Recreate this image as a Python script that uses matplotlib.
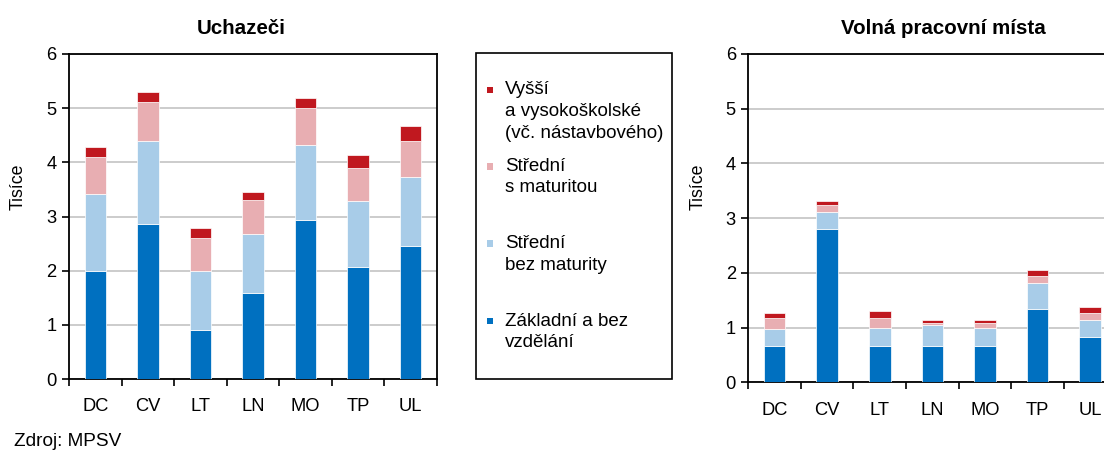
import matplotlib
matplotlib.use("Agg")
import matplotlib.pyplot as plt
from matplotlib.patches import Rectangle
import numpy as np

plt.rcParams['font.family'] = ['Liberation Sans', 'DejaVu Sans']

regions = ["DC", "CV", "LT", "LN", "MO", "TP", "UL"]

# Uchazeči (thousands)
uch_zakladni = [1.99, 2.86, 0.91, 1.58, 2.93, 2.06, 2.45]
uch_stredni_bez = [1.42, 1.53, 1.08, 1.10, 1.39, 1.22, 1.28]
uch_stredni_s = [0.69, 0.73, 0.62, 0.63, 0.69, 0.62, 0.66]
uch_vyssi = [0.18, 0.17, 0.17, 0.14, 0.18, 0.24, 0.28]

# Volná pracovní místa (thousands)
vpm_zakladni = [0.66, 2.81, 0.66, 0.66, 0.66, 1.34, 0.83]
vpm_stredni_bez = [0.31, 0.31, 0.34, 0.38, 0.34, 0.48, 0.31]
vpm_stredni_s = [0.20, 0.12, 0.17, 0.05, 0.09, 0.12, 0.12]
vpm_vyssi = [0.10, 0.08, 0.14, 0.05, 0.05, 0.12, 0.11]

legend_labels = [
    ["Vyšší", "a vysokoškolské", "(vč. nástavbového)"],
    ["Střední", "s maturitou"],
    ["Střední", "bez maturity"],
    ["Základní a bez", "vzdělání"],
]

C_BLUE = "#0070C0"
C_LBLUE = "#A8CCE8"
C_PINK = "#E8AEB2"
C_RED = "#C0181F"
colors = [C_BLUE, C_LBLUE, C_PINK, C_RED]

W, H = 1104, 451
fig = plt.figure(figsize=(W / 100, H / 100), dpi=100)


def fx(x):
    return x / W


def fy(y):
    return 1 - y / H


def draw(ax, series):
    x = np.arange(len(regions))
    bottom = np.zeros(len(regions))
    for vals, c in zip(series, colors):
        ax.bar(x, vals, 0.41, bottom=bottom, color=c, edgecolor="white",
               linewidth=0.5, zorder=3)
        bottom += np.array(vals)
    ax.set_xlim(-0.5, len(regions) - 0.5)
    ax.set_ylim(0, 6)
    ax.set_yticks(range(0, 7))
    ax.set_xticks(x)
    ax.set_xticklabels(regions)
    ax.set_xticks(np.arange(-0.5, len(regions)), minor=True)
    ax.tick_params(axis="x", which="major", length=0, pad=14, labelsize=13.2)
    ax.tick_params(axis="x", which="minor", length=5, width=1.2, direction="out")
    ax.tick_params(axis="y", length=5, width=1.2, direction="out", labelsize=13.2, pad=4)
    ax.yaxis.grid(True, color="#C8C8C8", linewidth=1.3, zorder=0)
    ax.set_axisbelow(True)
    for s in ax.spines.values():
        s.set_linewidth(1.3)
        s.set_color("black")


ax1 = fig.add_axes([fx(69), fy(379), fx(437 - 69), (379 - 54) / H])
draw(ax1, [uch_zakladni, uch_stredni_bez, uch_stredni_s, uch_vyssi])

ax2 = fig.add_axes([fx(748.3), fy(382.3), fx(368), (382.3 - 54) / H])
draw(ax2, [vpm_zakladni, vpm_stredni_bez, vpm_stredni_s, vpm_vyssi])

fig.text(fx(241), fy(28), "Uchazeči", fontsize=14.8, fontweight="bold",
         ha="center", va="center")
fig.text(fx(943), fy(28), "Volná pracovní místa", fontsize=14.8, fontweight="bold",
         ha="center", va="center")
fig.text(fx(18), fy(187), "Tisíce", fontsize=12.8, rotation=90,
         ha="center", va="center")
fig.text(fx(698), fy(187), "Tisíce", fontsize=12.8, rotation=90,
         ha="center", va="center")
fig.text(fx(14), fy(442), "Zdroj: MPSV", fontsize=13.7, ha="left", va="center")

# legend box
fig.patches.append(Rectangle((fx(475.7), fy(379.3)), fx(671.7 - 475.7),
                             (379.3 - 52.7) / H, transform=fig.transFigure,
                             fill=False, edgecolor="black", linewidth=1.2))
entry_y = [90, 166.5, 243.5, 321]
legend_colors = [C_RED, C_PINK, C_LBLUE, C_BLUE]
line_step = 21.5
for lines, y0, c in zip(legend_labels, entry_y, legend_colors):
    fig.patches.append(Rectangle((fx(486.5), fy(y0 + 3.3)), fx(6.6), 6.6 / H,
                                 transform=fig.transFigure, facecolor=c,
                                 edgecolor="none"))
    for i, t in enumerate(lines):
        fig.text(fx(505), fy(y0 + i * line_step), t, fontsize=13.5,
                 ha="left", va="center")

fig.savefig("out.png", dpi=100)
